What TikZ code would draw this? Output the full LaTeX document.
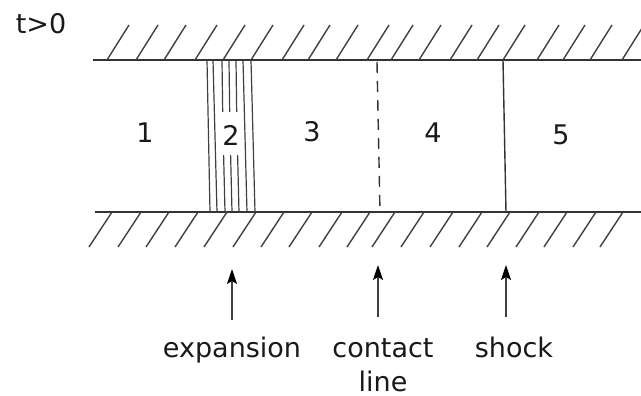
\documentclass[tikz,border=0pt]{standalone}
\usepackage{fontspec}
\setmainfont{DejaVu Sans}
\usetikzlibrary{arrows.meta}
\tikzset{
  wall/.style={line width=1.5pt, draw=black!80},
  hatch/.style={line width=1.4pt, draw=black!75},
  fan/.style={line width=1.2pt, draw=black!75},
  front/.style={line width=1.4pt, draw=black!80},
  arr/.style={line width=1.4pt, draw=black!75, -{Stealth[length=15pt,width=10pt,inset=3pt,color=black]}},
  lab/.style={inner sep=0pt, font=\fontsize{27}{34}\selectfont, text=black!90},
}
\begin{document}
\begin{tikzpicture}[x=1pt,y=-1pt]
\useasboundingbox (0,0) rectangle (641,396);
% walls
\draw[wall] (93,60) -- (641,60);
\draw[wall] (95,212) -- (641,212);
\foreach \x in {107,136,164,195,223,251,282,308,336,367,391,419,450,477,503,537,563,590,622}
  \draw[hatch] (\x,60) -- ++(22,-35);
\foreach \x in {112,141,169,198,227,256,284,312,342,370,395,424,453,482,510,539,567,596,623}
  \draw[hatch] (\x,212) -- ++(-23,35);
% expansion fan
\draw[fan] (207,60) -- (210,212);
\draw[fan] (213,60) -- (217,212);
\draw[fan] (222,61) -- (222.7,112);
\draw[fan] (223.6,155) -- (225,212);
\draw[fan] (229,61) -- (229.7,112);
\draw[fan] (230.6,155) -- (232,212);
\draw[fan] (236,61) -- (236.7,112);
\draw[fan] (237.6,155) -- (239,212);
\draw[fan] (243,60) -- (247,212);
\draw[fan] (251,60) -- (255,212);
% contact line and shock
\draw[front, dash pattern=on 11pt off 8pt] (377,62) -- (380,212);
\draw[front] (503,60) -- (506,212);
% region labels
\node[lab] (r1) at (145,133) {1};
\node[lab] (r2) at (231,135) {2};
\node[lab] (r3) at (312,132) {3};
\node[lab] (r4) at (433,133) {4};
\node[lab] (r5) at (561,135) {5};
\node[lab] (t) at (41,24) {t>0};
% bottom labels
\node[lab, anchor=base] (exp) at (232,357) {expansion};
\node[lab, anchor=base] (con) at (383,357) {contact};
\node[lab, anchor=base] (lin) at (383,391) {line};
\node[lab, anchor=base] (sho) at (514,357) {shock};
% arrows
\coordinate (e0) at (232,320);
\coordinate (e1) at (232,269);
\coordinate (c0) at (378,317);
\coordinate (c1) at (378,265);
\coordinate (s0) at (506,317);
\coordinate (s1) at (506,265);
\draw[arr] (e0) -- (e1);
\draw[arr] (c0) -- (c1);
\draw[arr] (s0) -- (s1);
\end{tikzpicture}
\end{document}
